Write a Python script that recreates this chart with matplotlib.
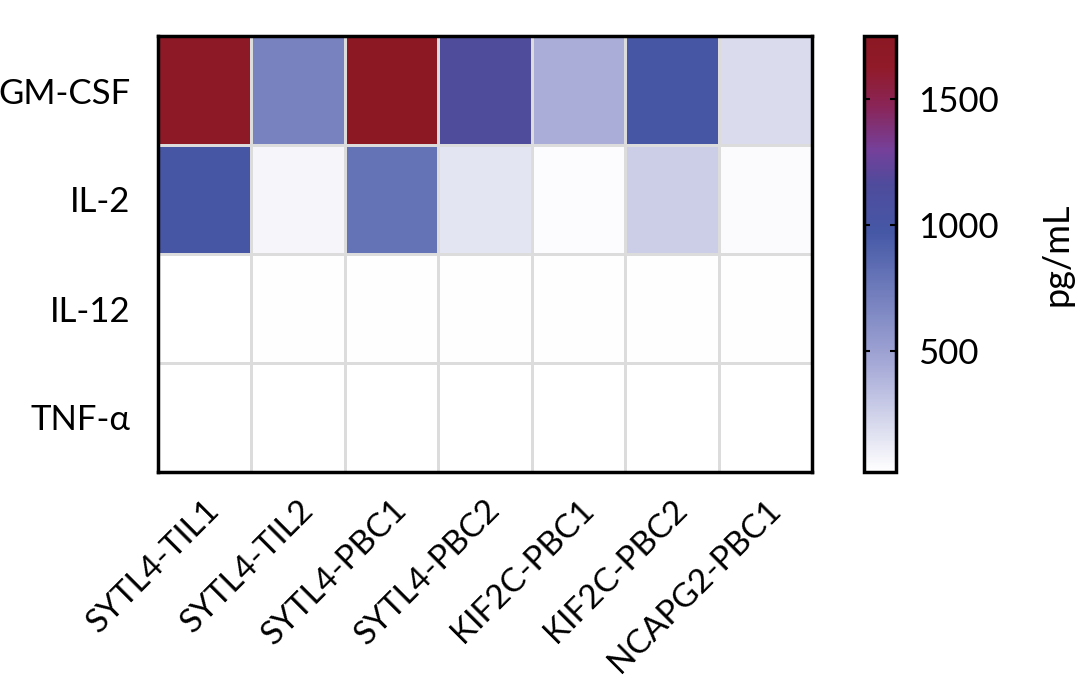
import numpy as np
import matplotlib.pyplot as plt
import matplotlib.transforms as mtransforms
from matplotlib.colors import LinearSegmentedColormap

samples = ["SYTL4-TIL1", "SYTL4-TIL2", "SYTL4-PBC1", "SYTL4-PBC2",
           "KIF2C-PBC1", "KIF2C-PBC2", "NCAPG2-PBC1"]
cytokines = ["GM-CSF", "IL-2", "IL-12", "TNF-α"]

gm_csf = [1700, 700, 1750, 1150, 430, 1000, 200]
il2 = [1000, 70, 800, 150, 35, 270, 42]
il12 = [20, 30, 30, 28, 28, 30, 28]
tnf = [20, 20, 20, 20, 20, 20, 20]

vals = np.array([gm_csf, il2, il12, tnf])

cmap = LinearSegmentedColormap.from_list("wbr", [
    (0.0, "#ffffff"),
    (0.25, "#a4a8d6"),
    (0.55, "#4558a6"),
    (0.66, "#4f4b9c"),
    (0.74, "#75409a"),
    (0.84, "#8a2558"),
    (0.93, "#901a28"),
    (1.0, "#8c1824"),
])

plt.rcParams['font.family'] = ['Lato', 'DejaVu Sans']

fig = plt.figure(figsize=(10.86, 6.81), dpi=100)
ax = fig.add_axes([158 / 1086, 1 - 472 / 681, 654 / 1086, 436 / 681])
cax = fig.add_axes([864 / 1086, 1 - 472 / 681, 32 / 1086, 436 / 681])

mesh = ax.pcolormesh(vals, cmap=cmap, vmin=20, vmax=1750,
                     edgecolor="#dcdcdc", linewidth=1)
ax.set_ylim(len(cytokines), 0)
ax.set_xticks(np.arange(len(samples)) + 0.5)
ax.set_xticklabels(samples, rotation=45, ha="right", rotation_mode="anchor",
                   fontsize=24)
# nudge the rotated labels to the right a little
shift = mtransforms.ScaledTranslation(20 / 100, -4 / 100, fig.dpi_scale_trans)
for lbl in ax.get_xticklabels():
    lbl.set_transform(lbl.get_transform() + shift)
ax.set_yticks(np.arange(len(cytokines)) + 0.5)
ax.set_yticklabels(cytokines, fontsize=25)
ax.tick_params(axis="y", length=0, pad=20)
ax.tick_params(axis="x", length=0, pad=16)
for s in ax.spines.values():
    s.set_linewidth(2.5)

cb = fig.colorbar(mesh, cax=cax)
cb.set_ticks([500, 1000, 1500])
cb.ax.tick_params(direction="in", left=True, right=True, length=4, width=1.5,
                  labelsize=25, pad=16)
cb.outline.set_linewidth(2.5)
cb.set_label("pg/mL", fontsize=26, labelpad=30)

fig.savefig("out.png", dpi=100)
